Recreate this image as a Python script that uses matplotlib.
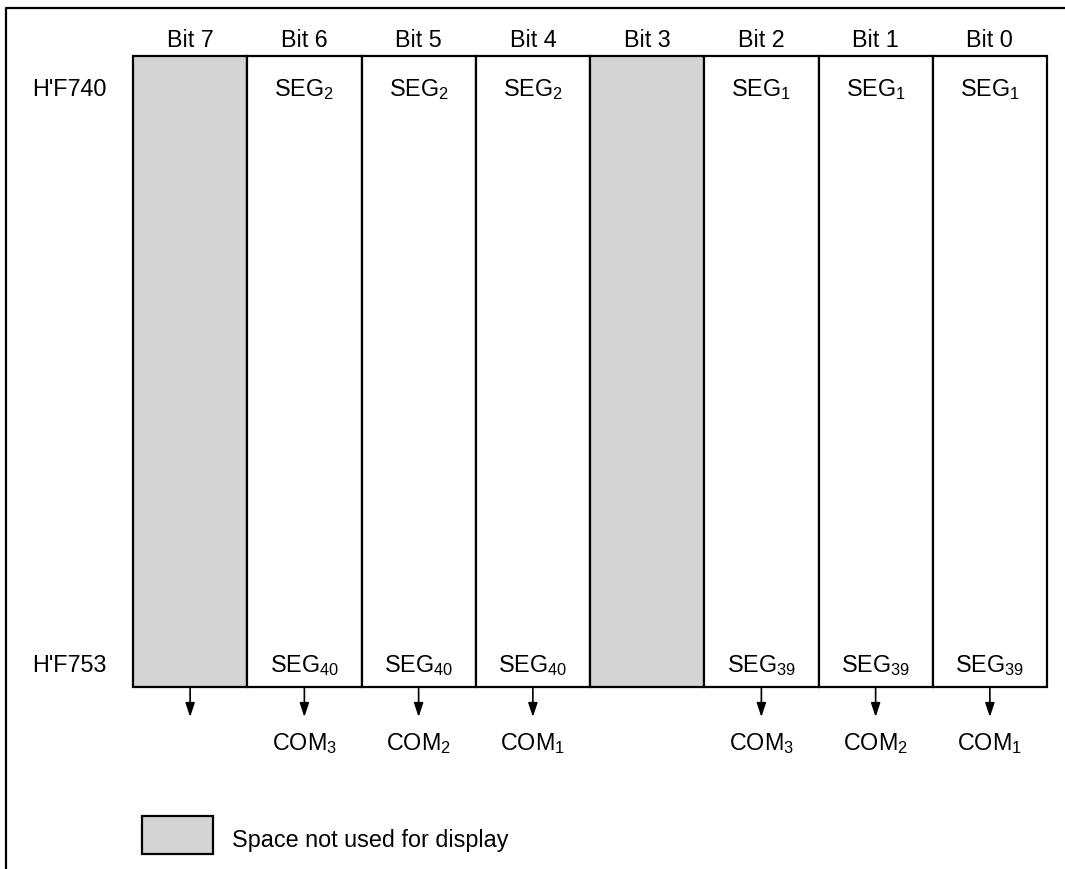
import matplotlib
matplotlib.use('Agg')
import matplotlib.pyplot as plt
from matplotlib.patches import Rectangle

plt.rcParams['font.family'] = ['Liberation Sans', 'DejaVu Sans']
plt.rcParams['mathtext.fontset'] = 'custom'
plt.rcParams['mathtext.rm'] = 'Liberation Sans'
plt.rcParams['mathtext.it'] = 'Liberation Sans:italic'

# register layout data
bits = ['Bit 7', 'Bit 6', 'Bit 5', 'Bit 4', 'Bit 3', 'Bit 2', 'Bit 1', 'Bit 0']
unused = [True, False, False, False, True, False, False, False]
top_seg = [None, '2', '2', '2', None, '1', '1', '1']
bottom_seg = [None, '40', '40', '40', None, '39', '39', '39']
com = [None, '3', '2', '1', None, '3', '2', '1']
has_arrow = [True, True, True, True, False, True, True, True]
addresses = ["H'F740", "H'F753"]
legend_text = 'Space not used for display'

W, H = 1065, 870
fig = plt.figure(figsize=(W / 100, H / 100), dpi=100)
ax = fig.add_axes([0, 0, 1, 1])
ax.set_xlim(0, W)
ax.set_ylim(H, 0)
ax.axis('off')

x0, x1 = 133, 1047
y_top, y_bot = 57, 688
cw = (x1 - x0) / len(bits)
centers = [x0 + cw * (i + 0.5) for i in range(len(bits))]
fills = ['#d4d4d4' if u else 'white' for u in unused]
fs = 16.8

# outer frame (left and top only)
ax.plot([6, 6, W], [H, 8.5, 8.5], color='black', lw=1.6, solid_capstyle='projecting')

ax.bar(centers, y_bot - y_top, bottom=y_top, width=cw, color=fills,
       edgecolor='black', linewidth=1.6)

for i, cx in enumerate(centers):
    ax.text(cx, 47, bits[i], ha='center', va='baseline', fontsize=fs)
    if top_seg[i]:
        ax.text(cx, 96, r'SEG$_{\mathrm{%s}}$' % top_seg[i], ha='center', va='baseline', fontsize=fs)
    if bottom_seg[i]:
        ax.text(cx, 672, r'SEG$_{\mathrm{%s}}$' % bottom_seg[i], ha='center', va='baseline', fontsize=fs)
    if has_arrow[i]:
        ax.annotate('', xy=(cx, 718), xytext=(cx, y_bot),
                    arrowprops=dict(arrowstyle='-|>,head_length=0.6,head_width=0.2',
                                    color='black', lw=1.2,
                                    mutation_scale=14, shrinkA=0, shrinkB=0))
    if com[i]:
        ax.text(cx, 750, r'COM$_{\mathrm{%s}}$' % com[i], ha='center', va='baseline', fontsize=fs)

ax.text(32, 96, addresses[0], ha='left', va='baseline', fontsize=fs)
ax.text(32, 672, addresses[1], ha='left', va='baseline', fontsize=fs)

ax.add_patch(Rectangle((142, 817), 71, 38, facecolor='#d4d4d4', edgecolor='black', lw=1.6))
ax.text(232, 847, legend_text, ha='left', va='baseline', fontsize=fs)

fig.savefig('out.png', dpi=100)
